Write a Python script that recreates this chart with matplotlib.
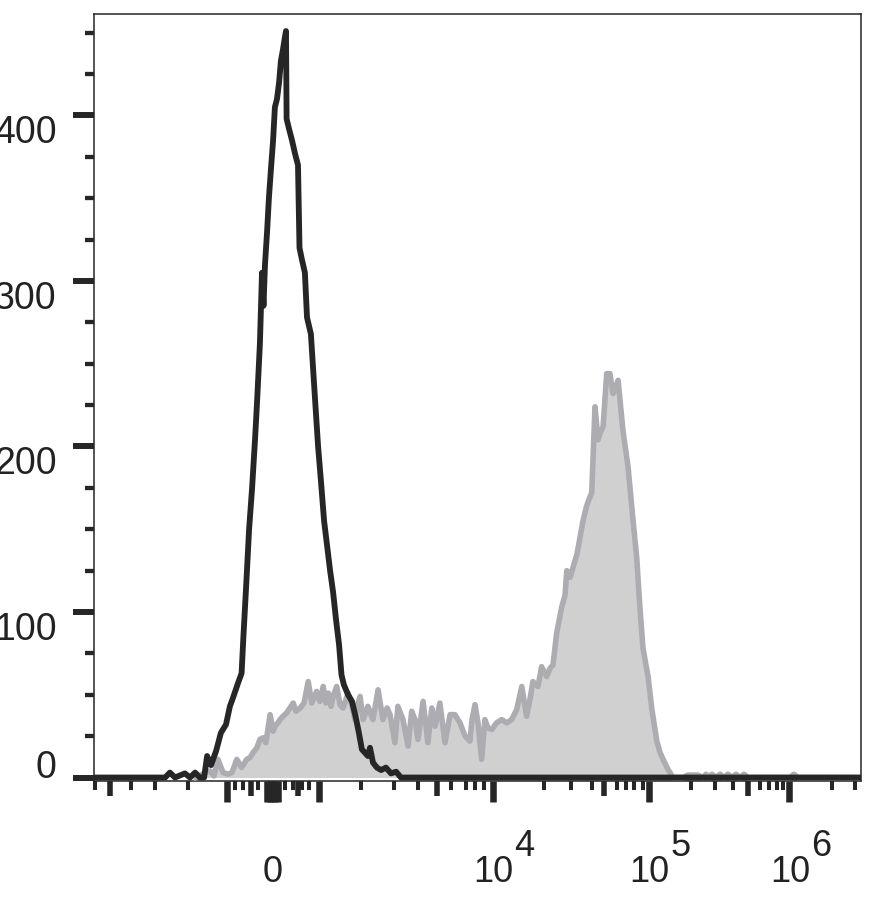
import matplotlib
matplotlib.use("Agg")
import matplotlib.pyplot as plt

plt.rcParams['font.family'] = ['Liberation Sans', 'DejaVu Sans']

# ---- data (x in display channels 0..256 of the biexponential axis, y = cell count) ----
black_x = [0, 23.7, 25.3, 27, 30.3, 32, 33.7, 35.3, 36.7, 37.7, 39, 40.7, 42.3, 44, 45.3, 46.3,
           48, 49.2, 49.8, 50.7, 51.7, 52.7, 53.7, 54.3, 55.3, 56, 56.5, 57, 57.7, 58.3, 59,
           59.7, 60.3, 61, 61.7, 62.3, 63, 63.7, 64, 64.2, 65, 66, 67, 68, 68.5, 69.3, 70.3,
           71, 72.3, 73.7, 74.7, 75.7, 76.7, 77.7, 78.7, 79.7, 80.7, 81.7, 82.5, 83.3, 84.7,
           86, 87.3, 88.3, 89.3, 90.3, 91.3, 92, 93, 94.3, 95.7, 97.3, 99, 100.7, 102.3, 255.7]
black_y = [0, 0, 3, 0, 2.5, 0, 3, 0, 0, 13, 7.5, 16, 27, 32, 43, 48,
           57, 63, 85, 115, 150, 175, 205, 225, 262, 305, 285, 310, 330, 350, 368,
           385, 405, 410, 420, 433, 440, 448, 451, 398, 392, 385, 377, 370, 320, 313, 305,
           278, 268, 228, 200, 178, 155, 140, 125, 112, 95, 80, 62, 56, 50,
           46, 36, 27, 17, 15, 13, 18, 9, 6, 4.5, 6, 2.5, 3.5, 0, 0]

gray_x = [34, 35.3, 37, 38.7, 40, 41.3, 43, 44.7, 46, 47.6, 49.2, 50.9, 52, 53, 54.3, 55.3,
          56.3, 57.3, 58.7, 59.7, 60.3, 61.3, 62, 63, 64.2, 65.3, 66.4, 67.3, 68.7, 70, 71.4,
          72.6, 73.3, 74.2, 75.3, 76.4, 77.3, 78.1, 79, 79.7, 80.9, 82, 83, 84.7, 86, 87, 88,
          88.7, 89.7, 91.3, 93, 94.7, 96.3, 97.7, 98.7, 100.3, 101.3, 103, 104.7, 105.9, 107,
          108, 109.7, 111.3, 112.6, 113.7, 115.3, 117, 118.7, 120.3, 122, 123.7, 125.3, 126,
          127, 128, 129.2, 130.3, 131.3, 132.6, 134.2, 135.9, 137.6, 139.2, 140.9, 142.6,
          144.2, 145.3, 146.3, 148, 149.2, 150.9, 152, 153, 154.2, 155.9, 157, 157.6, 158.7,
          159.7, 161, 162, 163, 164.2, 165, 165.9, 167, 168, 168.7, 169.7, 170.9, 172, 173,
          174, 174.7, 176.3, 178, 179.7, 180.9, 182, 183, 184.7, 185.9, 187.6, 188.7, 189.7,
          191.3, 193, 196.3, 198, 201.3, 203, 204, 205, 206, 207.3, 208.7, 210, 211.3, 212.7,
          214, 215.3, 216.7, 218, 232, 233.3, 234.7, 255.7]
gray_y = [0, 1, 3, 4, 1, 11, 3, 2, 3, 11, 6, 11, 12, 15, 18, 23,
          24, 21, 38, 28, 31, 33, 35, 37, 39, 42, 45, 40, 42, 45, 58,
          45, 48, 52, 46, 55, 45, 51, 43, 49, 55, 44, 42, 51, 43, 35, 45,
          49, 35, 43, 35, 53, 35, 42, 38, 21, 43, 35, 19, 40, 35,
          23, 46, 21, 42, 31, 45, 21, 38, 38, 33, 25, 22, 35,
          44, 33, 11, 35, 30, 29, 33, 35, 33, 35, 41, 55,
          37, 47, 58, 55, 67, 61, 66, 68, 87, 103, 110, 125, 121,
          127, 135, 145, 155, 164, 168, 172, 224, 204, 208, 212, 244, 244, 232,
          236, 240, 210, 188, 155, 133, 102, 78, 61, 42, 22, 15, 11,
          5, 0, 0, 1.5, 1.5, 0, 2, 0, 2, 0, 2, 0, 2, 0,
          2, 0, 2, 0, 0, 2, 0, 0]

y_major = [0, 100, 200, 300, 400]
y_major_labels = ['0', '100', '200', '300', '400']
y_minor = [25, 50, 75, 125, 150, 175, 225, 250, 275, 325, 350, 375, 425, 450]

x_long = [44.2, 57.8, 58.7, 59.5, 60.3, 61.2, 75.1, 133.1, 185.1, 231.8]
x_medium = [5.3, 52.2, 68.1, 114.2, 170.0, 217.9]
x_short = [0.2, 12.2, 20.2, 31.2, 47.0, 49.7, 54.7, 63.8, 66.4, 69.2, 71.8, 89.0, 100.0,
           108.0, 119.0, 124.0, 127.0, 130.0, 150.0, 159.0, 166.0, 174.2, 177.2, 180.1,
           182.9, 198.9, 207.0, 212.9, 222.0, 225.0, 227.7, 229.7, 246.0, 253.8]
x_zero_pos = 59.7
x_decade_pos = [133.1, 185.1, 232.1]
x_decade_exp = ['4', '5', '6']

# ---- figure ----
W, H = 874, 899
fig = plt.figure(figsize=(W / 100, H / 100), dpi=100)
ax = fig.add_axes([94 / W, 1 - 781 / H, (861 - 94) / W, (781 - 14) / H])
ax.set_xlim(0, 255.67)
ax.set_ylim(-2.1, 461.3)

dark = '#262626'
ax.fill_between(gray_x, gray_y, 0, color='#d0d0d0', lw=0, zorder=2)
ax.plot(gray_x, gray_y, color='#adadb1', lw=4.0, zorder=3)
ax.plot(black_x, black_y, color=dark, lw=4.2, zorder=4)

for s in ax.spines.values():
    s.set_linewidth(1.1)
    s.set_color(dark)

# x ticks
ax.set_xticks(x_long)
ax.set_xticks(x_short, minor=True)
ax.tick_params(axis='x', which='major', length=15, width=4.7, color=dark,
               labelbottom=False, direction='out')
ax.tick_params(axis='x', which='minor', length=6.5, width=2.9, color=dark,
               labelbottom=False, direction='out')
sec = ax.secondary_xaxis('bottom')
sec.set_xticks(x_medium)
sec.tick_params(axis='x', length=10.8, width=4.0, color=dark, labelbottom=False)
sec.spines['bottom'].set_visible(False)

# y ticks
ax.set_yticks(y_major)
ax.set_yticklabels(y_major_labels)
ax.set_yticks(y_minor, minor=True)
ax.tick_params(axis='y', which='major', length=15, width=4.3, color=dark, pad=12,
               labelsize=27, labelcolor='#222222')
ax.tick_params(axis='y', which='minor', length=6.5, width=3.1, color=dark)
for i, lbl in enumerate(ax.get_yticklabels()):
    lbl.set_va('baseline' if i == 0 else 'top')

# x labels
ax.annotate('0', xy=(x_zero_pos, 0), xycoords=('data', 'axes fraction'),
            xytext=(0, -73), textcoords='offset points', ha='center', va='baseline',
            fontsize=26, color='#222222', annotation_clip=False)
for pos, e in zip(x_decade_pos, x_decade_exp):
    ax.annotate('10', xy=(pos, 0), xycoords=('data', 'axes fraction'),
                xytext=(0, -73), textcoords='offset points', ha='center', va='baseline',
                fontsize=26, color='#222222', annotation_clip=False)
    ax.annotate(e, xy=(pos, 0), xycoords=('data', 'axes fraction'),
                xytext=(15.0, -54), textcoords='offset points', ha='left', va='baseline',
                fontsize=26, color='#222222', annotation_clip=False)

fig.savefig('out.png', dpi=100)
